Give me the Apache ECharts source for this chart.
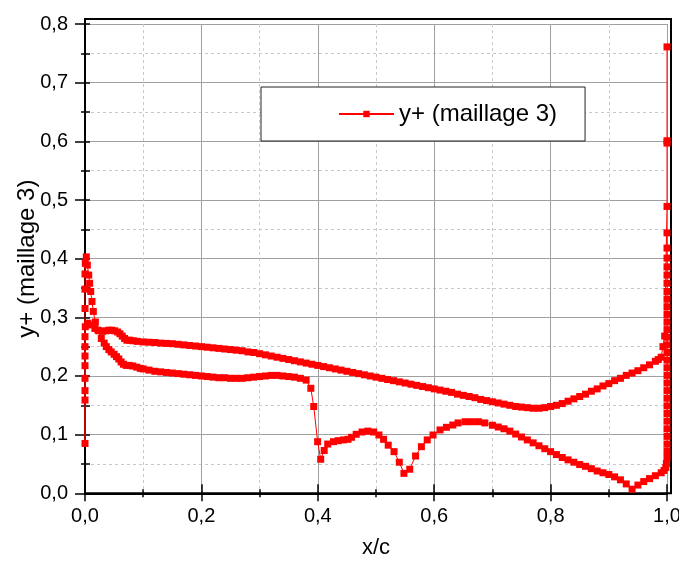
<!DOCTYPE html>
<html>
<head>
<meta charset="utf-8">
<script src="https://cdn.jsdelivr.net/npm/echarts@6/dist/echarts.min.js"></script>
<style>
html,body{margin:0;padding:0;background:#fff;}
#chart{width:679px;height:563px;}
</style>
</head>
<body>
<div id="chart"></div>
<script>
// ---- data (x/c, y+) ----
const seriesName = 'y+ (maillage 3)';
const xTicks = [0, 0.2, 0.4, 0.6, 0.8, 1.0];
const yTicks = [0, 0.1, 0.2, 0.3, 0.4, 0.5, 0.6, 0.7, 0.8];

// trailing-edge column, top to bottom
const teColumn = [
  [1.0,0.444],[1.0,0.418],[1.0,0.401],[1.0,0.386],[1.0,0.372],[1.0,0.358],[1.0,0.344],
  [1.0,0.331],[1.0,0.318],[1.0,0.305],[1.0,0.292],[1.0,0.279],[1.0,0.266],[1.0,0.253],
  [1.0,0.240],[1.0,0.227],[1.0,0.214],[1.0,0.201],[1.0,0.188],[1.0,0.175],[1.0,0.162],
  [1.0,0.149],[1.0,0.136],[1.0,0.123],[1.0,0.110],[1.0,0.097],[1.0,0.084],[1.0,0.072],
  [1.0,0.061],[0.999,0.051],[0.998,0.044]
];

// lower curve (peak at leading edge, dip near 0.4), listed by increasing x
const lowerBranch = [
  [0.0022,0.403],[0.004,0.389],[0.0064,0.372],[0.008,0.358],[0.0098,0.344],[0.012,0.327],
  [0.0143,0.310],[0.0178,0.292],[0.0223,0.278],[0.028,0.264],[0.033,0.256],[0.0366,0.250],
  [0.041,0.245],[0.045,0.241],[0.050,0.237],[0.054,0.233],[0.058,0.229],[0.062,0.224],
  [0.066,0.220],[0.071,0.218],[0.076,0.218],[0.082,0.217],[0.089,0.215],[0.095,0.213],
  [0.10,0.212],[0.11,0.210],[0.12,0.208],[0.13,0.207],[0.14,0.206],[0.15,0.205],
  [0.16,0.204],[0.17,0.203],[0.18,0.202],[0.19,0.201],[0.20,0.200],[0.21,0.199],
  [0.22,0.198],[0.23,0.197],[0.24,0.197],[0.25,0.196],[0.26,0.196],[0.27,0.196],
  [0.28,0.197],[0.29,0.198],[0.30,0.199],[0.31,0.200],[0.32,0.201],[0.33,0.201],
  [0.34,0.200],[0.35,0.199],[0.36,0.198],[0.37,0.196],[0.38,0.193],[0.388,0.179],
  [0.393,0.148],[0.3997,0.088],[0.405,0.058],[0.411,0.073],[0.417,0.084],[0.427,0.088],
  [0.435,0.0897],[0.444,0.091],[0.452,0.092],[0.458,0.0955],[0.466,0.1006],[0.476,0.1045],
  [0.486,0.106],[0.496,0.1045],[0.505,0.0994],[0.513,0.092],[0.521,0.082],[0.531,0.071],
  [0.540,0.053],[0.548,0.034],[0.558,0.041],[0.568,0.0636],[0.578,0.0795],[0.588,0.091],
  [0.598,0.0994],[0.610,0.108],[0.621,0.1125],[0.632,0.1164],[0.641,0.120],[0.653,0.122],
  [0.664,0.122],[0.676,0.122],[0.687,0.120],[0.70,0.116],[0.71,0.113],[0.72,0.110],
  [0.73,0.106],[0.74,0.101],[0.75,0.096],[0.76,0.091],[0.77,0.086],[0.78,0.081],
  [0.79,0.076],[0.80,0.071],[0.81,0.066],[0.82,0.061],[0.83,0.057],[0.84,0.053],
  [0.85,0.049],[0.86,0.046],[0.87,0.042],[0.88,0.038],[0.89,0.035],[0.90,0.032],
  [0.91,0.028],[0.92,0.023],[0.93,0.016],[0.94,0.007],[0.95,0.014],[0.96,0.020],
  [0.97,0.025],[0.98,0.030],[0.99,0.035],[0.995,0.039]
];

// leading-edge points at x/c ~ 0
const noseColumn = [
  [0.0005,0.392],[0,0.374],[0,0.348],[0,0.315],[0,0.267],[0,0.250],[0,0.234],
  [0,0.2175],[0,0.196],[0,0.175],[0,0.159],[0,0.085]
];

// upper curve, listed by increasing x, ending at the trailing-edge top
const upperBranch = [
  [0.0005,0.284],[0.005,0.290],[0.011,0.287],[0.017,0.281],[0.024,0.277],[0.030,0.276],
  [0.036,0.277],[0.041,0.278],[0.046,0.278],[0.051,0.277],[0.056,0.275],[0.060,0.272],
  [0.064,0.268],[0.068,0.264],[0.072,0.261],[0.077,0.261],[0.083,0.260],[0.09,0.259],
  [0.10,0.258],[0.11,0.2575],[0.12,0.257],[0.13,0.256],[0.14,0.2555],[0.15,0.255],
  [0.16,0.254],[0.17,0.253],[0.18,0.252],[0.19,0.251],[0.20,0.250],[0.21,0.249],
  [0.22,0.248],[0.23,0.247],[0.24,0.246],[0.25,0.245],[0.26,0.244],[0.27,0.243],
  [0.28,0.241],[0.29,0.240],[0.30,0.238],[0.31,0.236],[0.32,0.234],[0.33,0.232],
  [0.34,0.230],[0.35,0.228],[0.36,0.226],[0.37,0.224],[0.38,0.222],[0.39,0.220],
  [0.40,0.218],[0.41,0.216],[0.42,0.214],[0.43,0.212],[0.44,0.210],[0.45,0.208],
  [0.46,0.206],[0.47,0.204],[0.48,0.202],[0.49,0.200],[0.50,0.198],[0.51,0.196],
  [0.52,0.194],[0.53,0.192],[0.54,0.190],[0.55,0.188],[0.56,0.186],[0.57,0.184],
  [0.58,0.182],[0.59,0.180],[0.60,0.178],[0.61,0.176],[0.62,0.174],[0.63,0.172],
  [0.64,0.169],[0.65,0.167],[0.66,0.165],[0.67,0.163],[0.68,0.160],[0.69,0.158],
  [0.70,0.156],[0.71,0.154],[0.72,0.152],[0.73,0.150],[0.74,0.148],[0.75,0.147],
  [0.76,0.146],[0.77,0.145],[0.78,0.145],[0.79,0.146],[0.80,0.148],[0.81,0.150],
  [0.82,0.153],[0.83,0.157],[0.84,0.161],[0.85,0.165],[0.86,0.169],[0.87,0.174],
  [0.88,0.178],[0.89,0.183],[0.90,0.187],[0.91,0.192],[0.92,0.196],[0.93,0.201],
  [0.94,0.205],[0.95,0.209],[0.96,0.214],[0.97,0.219],[0.98,0.225],[0.985,0.228],
  [0.99,0.232],[0.993,0.250],[0.996,0.268],[1.0,0.489],[1.0,0.597],[1.0,0.601],[1.0,0.761]
];

const seriesData = [].concat(teColumn, lowerBranch.slice().reverse(), noseColumn, upperBranch);

// ---- chart ----
const FONT = '"Liberation Sans", Arial, Helvetica, sans-serif';
const fmt = v => (Math.round(v * 10) / 10).toFixed(1).replace('.', ',');
const chart = echarts.init(document.getElementById('chart'), null, {renderer: 'canvas'});

chart.setOption({
  animation: false,
  backgroundColor: '#fff',
  grid: {left: 85, top: 24, right: 12, bottom: 69.7, containLabel: false, outerBoundsMode: 'none'},
  legend: {
    data: [seriesName],
    left: 261, top: 87,
    padding: [15, 28, 15, 77],
    itemWidth: 55, itemHeight: 8,
    borderColor: '#222', borderWidth: 1,
    backgroundColor: '#fff',
    selectedMode: false,
    textStyle: {fontFamily: FONT, fontSize: 24, color: '#000'}
  },
  xAxis: [{
    type: 'value', position: 'bottom',
    min: xTicks[0], max: xTicks[xTicks.length - 1], interval: 0.2,
    name: 'x/c', nameLocation: 'middle', nameGap: 44, nameMoveOverlap: false,
    nameTextStyle: {fontFamily: FONT, fontSize: 22, color: '#000'},
    axisLine: {show: true, onZero: false, lineStyle: {color: '#000', width: 2}},
    axisTick: {show: true, inside: false, length: 8, lineStyle: {color: '#000', width: 1.5}},
    minorTick: {show: true, splitNumber: 2, length: 4, lineStyle: {color: '#000', width: 1.5}},
    splitLine: {show: true, lineStyle: {color: '#a0a0a0', width: 1, type: 'solid'}},
    minorSplitLine: {show: true, lineStyle: {color: '#c8c8c8', width: 1, type: [3, 3]}},
    axisLabel: {formatter: fmt, fontFamily: FONT, fontSize: 20, color: '#000', margin: 13}
  }, {
    type: 'value', position: 'top', offset: 5,
    min: xTicks[0], max: xTicks[xTicks.length - 1], interval: 0.2,
    axisLine: {show: false},
    axisTick: {show: true, inside: false, length: 9, lineStyle: {color: '#000', width: 1.5}},
    minorTick: {show: true, splitNumber: 2, length: 4, lineStyle: {color: '#000', width: 1.5}},
    splitLine: {show: false}, minorSplitLine: {show: false},
    axisLabel: {show: false}
  }],
  yAxis: [{
    type: 'value', position: 'left',
    min: yTicks[0], max: yTicks[yTicks.length - 1], interval: 0.1,
    name: seriesName, nameLocation: 'middle', nameGap: 46, nameMoveOverlap: false,
    nameTextStyle: {fontFamily: FONT, fontSize: 24, color: '#000'},
    axisLine: {show: true, onZero: false, lineStyle: {color: '#000', width: 2}},
    axisTick: {show: true, inside: false, length: 10, lineStyle: {color: '#000', width: 1.5}},
    minorTick: {show: true, splitNumber: 2, length: 4, lineStyle: {color: '#000', width: 1.5}},
    splitLine: {show: true, lineStyle: {color: '#a0a0a0', width: 1, type: 'solid'}},
    minorSplitLine: {show: true, lineStyle: {color: '#c8c8c8', width: 1, type: [3, 3]}},
    axisLabel: {formatter: fmt, fontFamily: FONT, fontSize: 20, color: '#000', margin: 17}
  }, {
    type: 'value', position: 'right', offset: 4,
    min: yTicks[0], max: yTicks[yTicks.length - 1], interval: 0.1,
    axisLine: {show: false},
    axisTick: {show: true, inside: false, length: 5, lineStyle: {color: '#000', width: 1.5}},
    minorTick: {show: true, splitNumber: 2, length: 5, lineStyle: {color: '#000', width: 1.5}},
    splitLine: {show: false}, minorSplitLine: {show: false},
    axisLabel: {show: false}
  }],
  graphic: [{
    type: 'rect', z: 1, silent: true,
    shape: {x: 85, y: 19, width: 586, height: 474.3},
    style: {fill: null, stroke: '#000', lineWidth: 2}
  }],
  series: [{
    name: seriesName,
    type: 'line',
    xAxisIndex: 0, yAxisIndex: 0,
    data: seriesData,
    symbol: 'rect', symbolSize: 7,
    showAllSymbol: true,
    clip: false,
    lineStyle: {color: '#ff0000', width: 1},
    itemStyle: {color: '#ff0000'},
    z: 3
  }]
});
</script>
</body>
</html>
